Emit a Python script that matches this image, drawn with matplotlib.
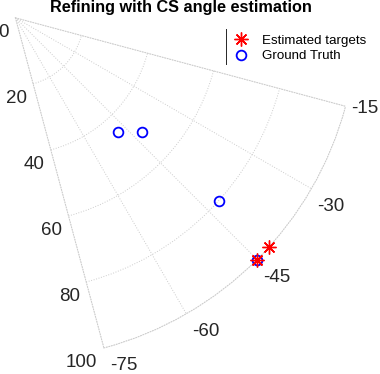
import numpy as np
import matplotlib.pyplot as plt
from matplotlib.lines import Line2D
from matplotlib.transforms import ScaledTranslation

plt.rcParams['font.family'] = ['Liberation Sans', 'DejaVu Sans']

title = 'Refining with CS angle estimation'
theta_ticks = [-75, -60, -45, -30, -15]
r_ticks = [0, 20, 40, 60, 80, 100]

# estimated targets (angle in deg, range)
est_theta = [-42, -45]
est_r = [100, 100]

# ground truth
gt_theta = [-48, -42, -42, -45]
gt_r = [45, 50, 80, 100]

GRID = '#cccccc'
TXT = '#262626'


def px_shift(fig, dx, dy):
    # offset in pixels, dy positive = down
    return ScaledTranslation(dx / fig.dpi, -dy / fig.dpi, fig.dpi_scale_trans)


def main(out_file):
    fig = plt.figure(figsize=(3.8, 3.74), dpi=100)
    ax = fig.add_axes([0.0395, 0.0695, 0.871, 0.883], projection='polar')

    ax.plot(np.deg2rad(est_theta), est_r, linestyle='none', marker=(8, 2, 0),
            ms=10, mew=1.0, color='red', clip_on=False, zorder=4,
            label='Estimated targets')
    ax.plot(np.deg2rad(gt_theta), gt_r, linestyle='none', marker='o',
            ms=7, mew=1.3, mfc='none', mec='blue', clip_on=False, zorder=3,
            label='Ground Truth')

    ax.set_thetamin(-75)
    ax.set_thetamax(-15)
    ax.set_rlim(0, 100)
    ax.set_thetagrids(theta_ticks, labels=[''] * len(theta_ticks))
    ax.set_rgrids(r_ticks[1:], labels=[''] * (len(r_ticks) - 1))
    ax.tick_params(length=0)
    ax.grid(True, color=GRID, linestyle=':', linewidth=0.7)
    for s in ax.spines.values():
        s.set_color(GRID)
        s.set_linestyle(':')
        s.set_linewidth(0.7)

    # radial labels along the -75 edge
    for r in r_ticks:
        ax.text(np.deg2rad(theta_ticks[0]), r, str(r),
                transform=ax.transData + px_shift(fig, -6.5, 14.5),
                ha='right', va='center', fontsize=13.5, color=TXT)

    # angle labels outside the arc
    for t in theta_ticks:
        dy = 2 if t == -15 else 17.5
        ax.text(np.deg2rad(t), r_ticks[-1], str(t),
                transform=ax.transData + px_shift(fig, 6, dy),
                ha='left', va='center', fontsize=13.5, color=TXT)

    ax.set_title(title, fontsize=11.7, fontweight='bold', pad=4.3)

    ax.legend(loc='upper left', bbox_to_anchor=(0.599, 0.908),
              bbox_transform=fig.transFigure, frameon=False, fontsize=9.6,
              handlelength=2, handletextpad=0.56, borderpad=0,
              borderaxespad=0, labelspacing=0.25)
    fig.add_artist(Line2D([0.594, 0.594], [0.829, 0.922],
                          transform=fig.transFigure, color=TXT, lw=0.7))

    fig.savefig(out_file, dpi=100)
    plt.close(fig)


if __name__ == "__main__":
    main('out.png')
